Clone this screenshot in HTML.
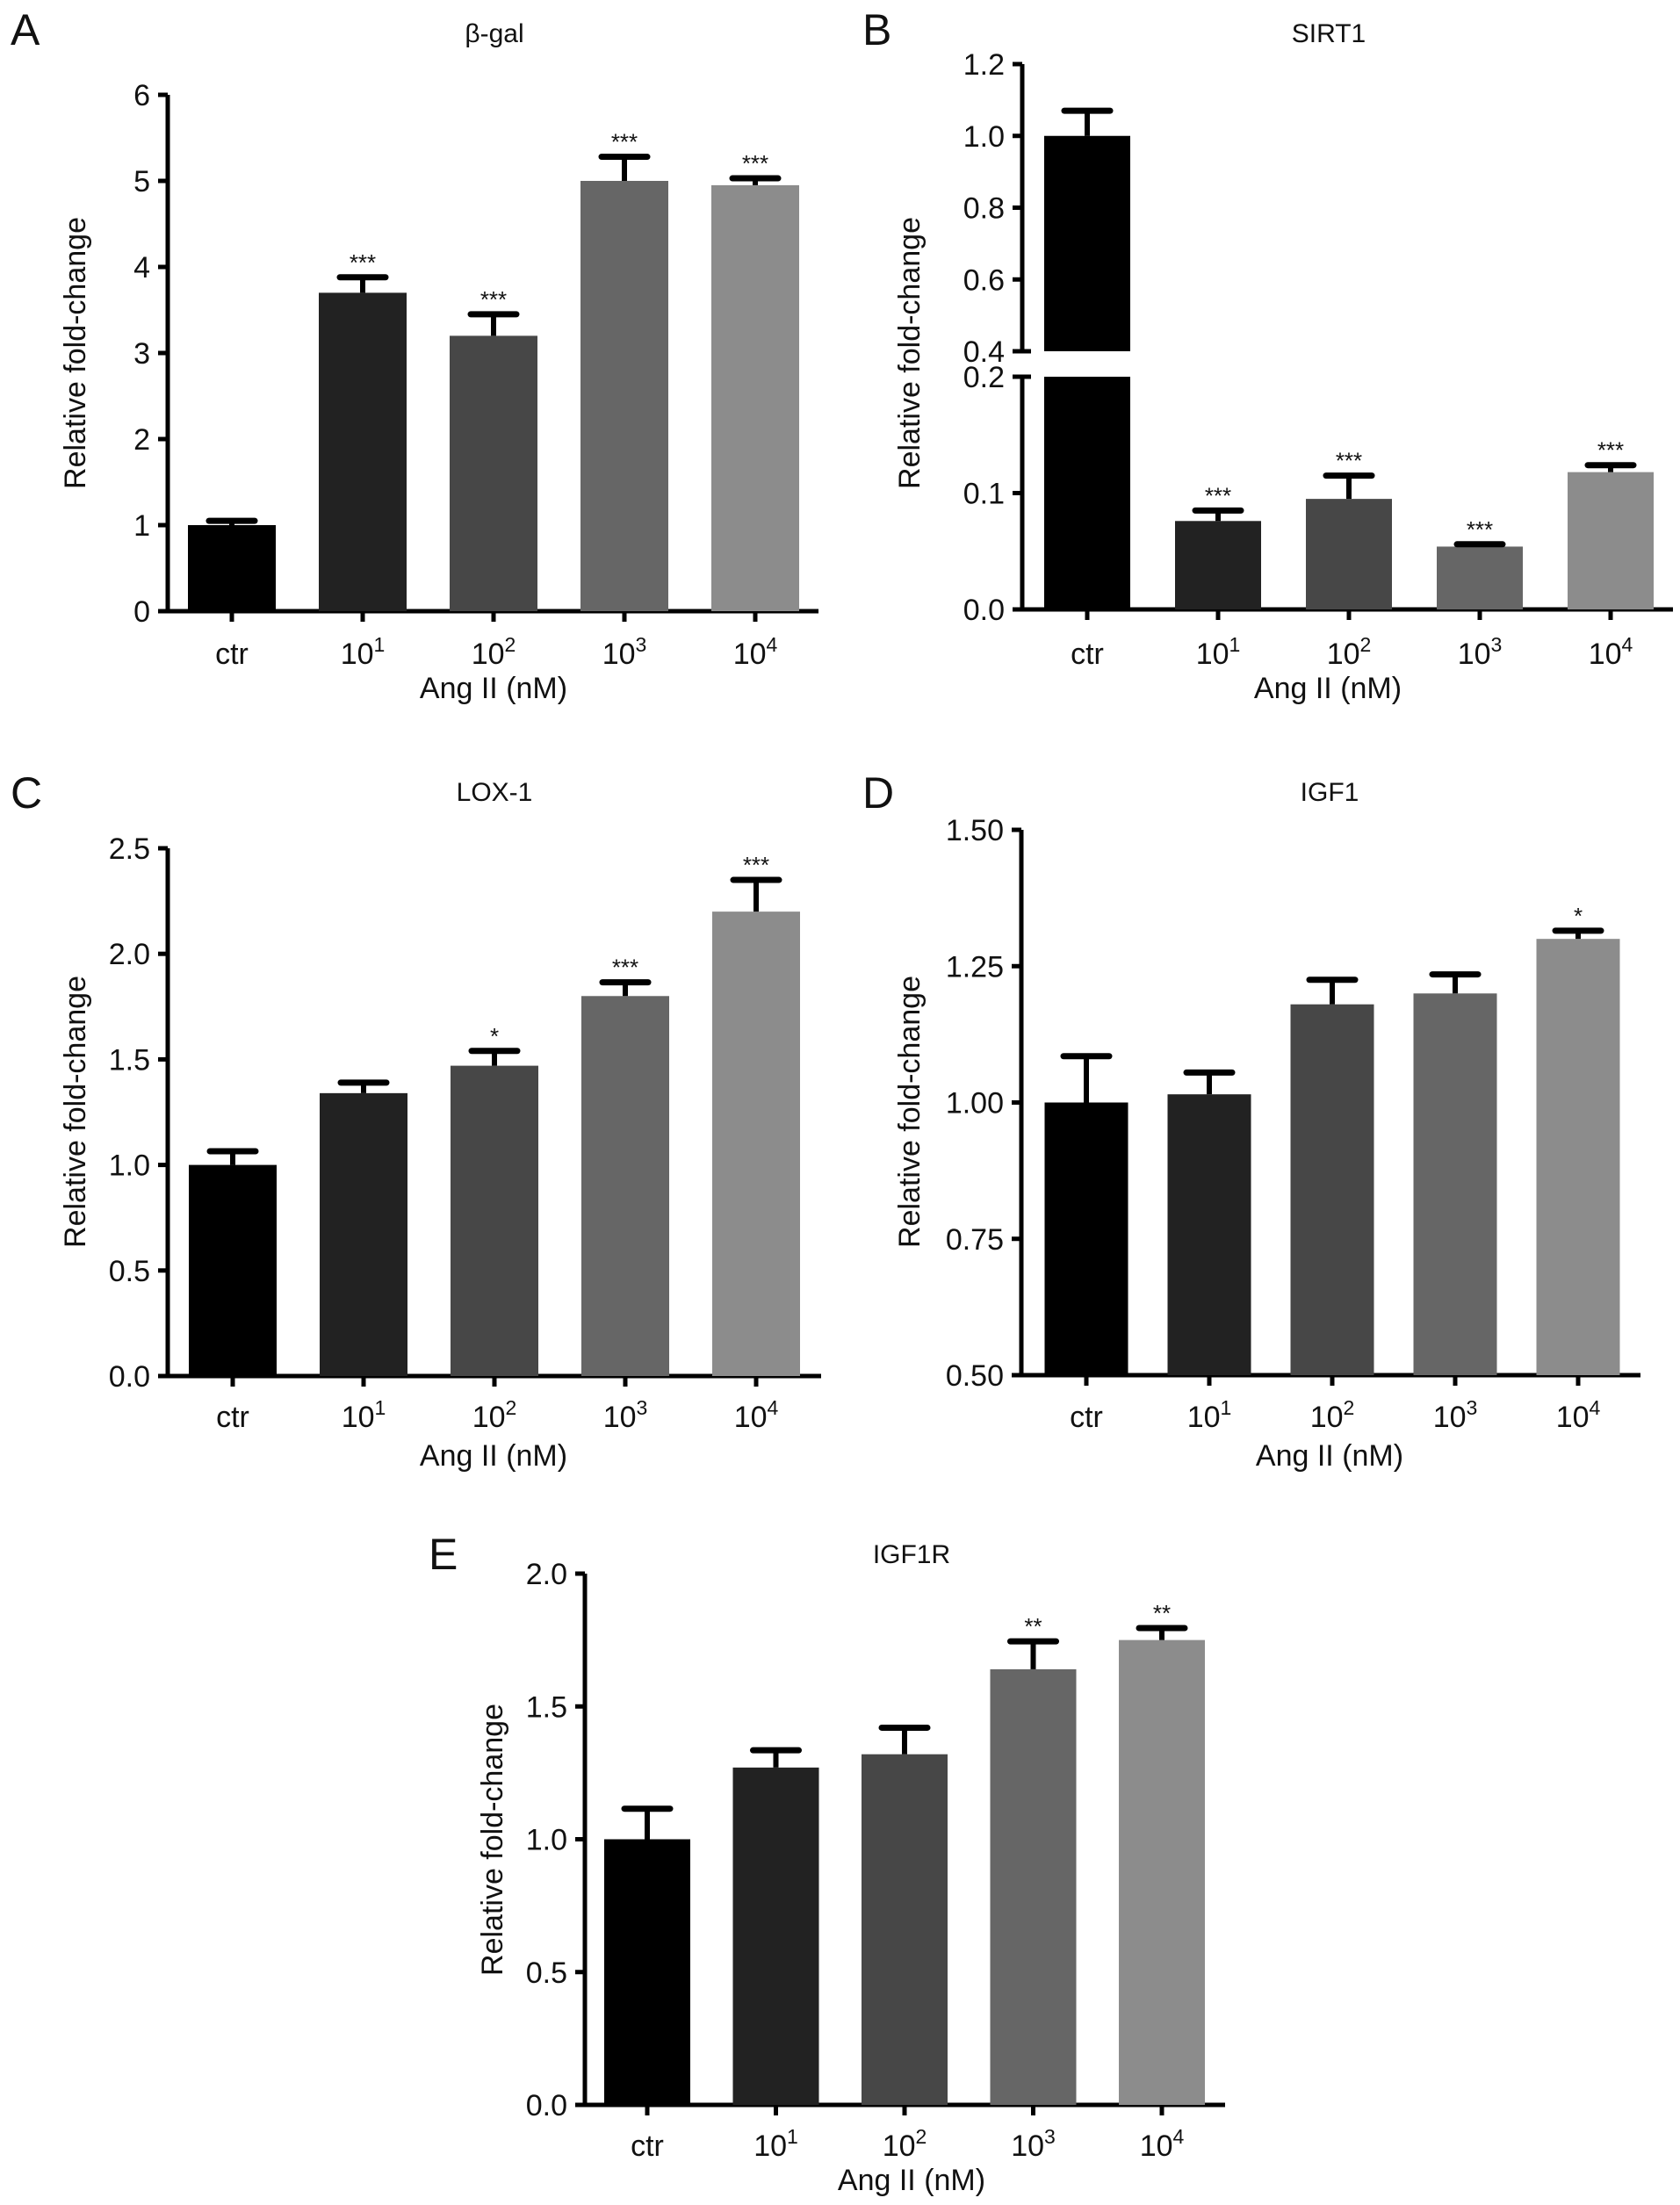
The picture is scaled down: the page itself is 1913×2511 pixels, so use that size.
<!DOCTYPE html>
<html><head><meta charset="utf-8"><style>
html,body{margin:0;padding:0;background:#fff;}
svg{display:block;font-family:"Liberation Sans",Arial,sans-serif;}
</style></head><body>
<svg id="fig" width="1913" height="2511" viewBox="0 0 1913 2511" xmlns="http://www.w3.org/2000/svg"></svg>
<script>
const categories = ["ctr","10|1","10|2","10|3","10|4"];
const colors = ["#000000","#222222","#474747","#666666","#8c8c8c"];
// Panel A: beta-gal
const aValues = [1.0, 3.7, 3.2, 5.0, 4.95];
const aErrors = [0.05, 0.18, 0.25, 0.28, 0.08];
const aStars = ["", "***", "***", "***", "***"];
const aTicks = [0,1,2,3,4,5,6];
// Panel B: SIRT1 (broken axis)
const bValues = [1.0, 0.076, 0.095, 0.054, 0.118];
const bErrors = [0.07, 0.009, 0.02, 0.002, 0.006];
const bStars = ["", "***", "***", "***", "***"];
const bTicksLow = [0.0, 0.1, 0.2];
const bTicksHigh = [0.4, 0.6, 0.8, 1.0, 1.2];
// Panel C: LOX-1
const cValues = [1.0, 1.34, 1.47, 1.80, 2.20];
const cErrors = [0.065, 0.05, 0.07, 0.065, 0.15];
const cStars = ["", "", "*", "***", "***"];
const cTicks = [0.0,0.5,1.0,1.5,2.0,2.5];
// Panel D: IGF1
const dValues = [1.0, 1.015, 1.18, 1.20, 1.30];
const dErrors = [0.085, 0.04, 0.045, 0.035, 0.015];
const dStars = ["", "", "", "", "*"];
const dTicks = [0.50,0.75,1.00,1.25,1.50];
// Panel E: IGF1R
const eValues = [1.0, 1.27, 1.32, 1.64, 1.75];
const eErrors = [0.115, 0.065, 0.10, 0.105, 0.045];
const eStars = ["", "", "", "**", "**"];
const eTicks = [0.0,0.5,1.0,1.5,2.0];

const NS = "http://www.w3.org/2000/svg";
const svg = document.getElementById('fig');
function mk(tag, attrs, parent){ const e=document.createElementNS(NS,tag); for(const k in attrs) e.setAttribute(k,attrs[k]); (parent||svg).appendChild(e); return e; }
function txt(s, x, y, size, anchor, parent){ const t=mk('text',{x:x,y:y,'font-size':size,'text-anchor':anchor||'middle',fill:'#111'},parent); t.textContent=s; return t; }
function catLabel(c, x, y, g){
  const t=mk('text',{x:x,y:y,'font-size':34,'text-anchor':'middle',fill:'#111'},g);
  const p=c.split('|');
  const a=document.createElementNS(NS,'tspan'); a.textContent=p[0]; t.appendChild(a);
  if(p[1]){ const b=document.createElementNS(NS,'tspan'); b.setAttribute('font-size','23'); b.setAttribute('dy','-14'); b.textContent=p[1]; t.appendChild(b); }
  return t;
}

function panel(cfg){
  const g=mk('g',{});
  
  
  const L=mk('text',{x:cfg.letterX,y:cfg.letterY,'font-size':50,fill:'#111'},g); L.textContent=cfg.letter;
  
  
  const T=txt(cfg.title, cfg.titleX, cfg.titleY, 30, 'middle', g);
  
  
  const y=cfg.y;
  if(cfg.broken){
    mk('line',{x1:cfg.ax,y1:y(0)+2.5,x2:cfg.ax,y2:y(0.2),stroke:'#000','stroke-width':5},g);
    mk('line',{x1:cfg.ax,y1:y(0.4),x2:cfg.ax,y2:y(1.2),stroke:'#000','stroke-width':5},g);
    mk('line',{x1:cfg.ax-10,y1:y(0.2),x2:cfg.ax+10,y2:y(0.2),stroke:'#000','stroke-width':5},g);
    mk('line',{x1:cfg.ax-10,y1:y(0.4),x2:cfg.ax+10,y2:y(0.4),stroke:'#000','stroke-width':5},g);
  } else {
    mk('line',{x1:cfg.ax,y1:y(cfg.ticks[0])+2.5,x2:cfg.ax,y2:y(cfg.ticks[cfg.ticks.length-1]),stroke:'#000','stroke-width':5},g);
  }
  cfg.ticks.forEach(function(v){
    const yy=y(v);
    mk('line',{x1:cfg.ax-11,y1:yy,x2:cfg.ax,y2:yy,stroke:'#000','stroke-width':5},g);
    const t=txt(cfg.fmt(v), cfg.ax-20, yy+12, 34, 'end', g);
    
    
  });
  const y0=y(cfg.ticks[0]);
  mk('line',{x1:cfg.ax-10,y1:y0,x2:cfg.axEnd,y2:y0,stroke:'#000','stroke-width':5},g);
  const yt=mk('text',{x:0,y:0,'font-size':34,'text-anchor':'middle',fill:'#111',transform:'translate('+cfg.ytX+','+cfg.ytY+') rotate(-90)'},g);
  yt.textContent='Relative fold-change';
  
  
  const xt=txt('Ang II (nM)', cfg.xtX, cfg.xtY, 34, 'middle', g);
  
  
  categories.forEach(function(c,i){
    const cx=cfg.x0+i*cfg.step, w=cfg.bw;
    const v=cfg.values[i], top=y(v), et=y(v+cfg.errors[i]);
    if(cfg.broken && v>0.2){
      const r1=mk('rect',{x:cx-w/2,y:y(0.2),width:w,height:y0-y(0.2),fill:colors[i]},g);
      
      
      const r2=mk('rect',{x:cx-w/2,y:top,width:w,height:y(0.4)-top,fill:colors[i]},g);
      
      
    } else {
      const r=mk('rect',{x:cx-w/2,y:top,width:w,height:y0-top,fill:colors[i]},g);
      
      
    }
    mk('line',{x1:cx,y1:top,x2:cx,y2:et,stroke:'#000','stroke-width':6},g);
    const cap=mk('line',{x1:cx-26,y1:et,x2:cx+26,y2:et,stroke:'#000','stroke-width':7,'stroke-linecap':'round'},g);
    
    
    if(cfg.stars[i]){
      const s=txt(cfg.stars[i], cx, et-8, 26, 'middle', g);
      
      
    }
    mk('line',{x1:cx,y1:y0,x2:cx,y2:y0+12,stroke:'#000','stroke-width':5},g);
    const cl=catLabel(c, cx, cfg.xlY, g);
    
    
  });
}
function lin(v0,p0,v1,p1){ return function(v){ return p0+(v-v0)*(p1-p0)/(v1-v0); }; }

panel({name:'panel-a-beta-gal',letter:'A',letterX:12,letterY:51,title:'β-gal',titleX:563,titleY:48,
  ax:191,axEnd:932,y:lin(0,696,6,108),ticks:aTicks,fmt:function(v){return String(v);},
  x0:264,step:149,bw:100,values:aValues,errors:aErrors,stars:aStars,xlY:756,xtX:562,xtY:795,ytX:97,ytY:402});

const byLow=lin(0,694,0.2,429), byHigh=lin(0.4,400,1.2,73);
panel({name:'panel-b-sirt1',letter:'B',letterX:982,letterY:51,title:'SIRT1',titleX:1513,titleY:48,broken:true,
  ax:1164,axEnd:1905,y:function(v){return v<=0.3?byLow(v):byHigh(v);},ticks:bTicksLow.concat(bTicksHigh),fmt:function(v){return v.toFixed(1);},
  x0:1238,step:149,bw:98,values:bValues,errors:bErrors,stars:bStars,xlY:756,xtX:1512,xtY:795,ytX:1047,ytY:402});

panel({name:'panel-c-lox1',letter:'C',letterX:12,letterY:920,title:'LOX-1',titleX:563,titleY:912,
  ax:191,axEnd:935,y:lin(0,1567,2.5,966),ticks:cTicks,fmt:function(v){return v.toFixed(1);},
  x0:265,step:149,bw:100,values:cValues,errors:cErrors,stars:cStars,xlY:1625,xtX:562,xtY:1669,ytX:97,ytY:1266});

panel({name:'panel-d-igf1',letter:'D',letterX:982,letterY:920,title:'IGF1',titleX:1514,titleY:912,
  ax:1163,axEnd:1868,y:lin(0.5,1566,1.5,945),ticks:dTicks,fmt:function(v){return v.toFixed(2);},
  x0:1237,step:140,bw:95,values:dValues,errors:dErrors,stars:dStars,xlY:1625,xtX:1514,xtY:1669,ytX:1047,ytY:1266});

panel({name:'panel-e-igf1r',letter:'E',letterX:488,letterY:1787,title:'IGF1R',titleX:1038,titleY:1780,
  ax:666,axEnd:1395,y:lin(0,2397,2.0,1792),ticks:eTicks,fmt:function(v){return v.toFixed(1);},
  x0:737,step:146.5,bw:98,values:eValues,errors:eErrors,stars:eStars,xlY:2455,xtX:1038,xtY:2494,ytX:572,ytY:2095});
</script>
</body></html>
